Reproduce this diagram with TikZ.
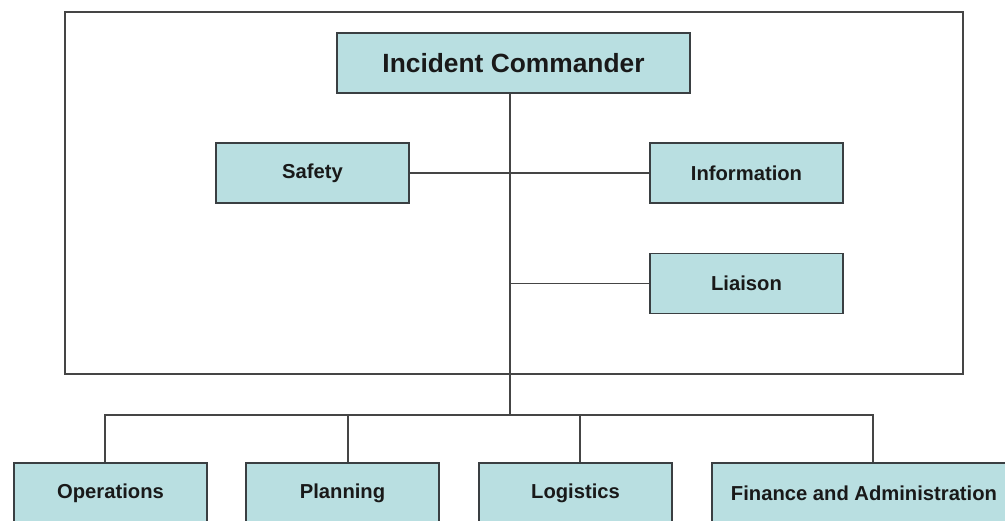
\documentclass[tikz,border=0pt]{standalone}
\usepackage{fontspec}
\setmainfont{Liberation Sans}
\usetikzlibrary{positioning,calc}
\definecolor{postfill}{HTML}{B9DFE1}
\definecolor{edge}{HTML}{3A3F42}
\definecolor{wire}{HTML}{454545}

\begin{document}
\begin{tikzpicture}[x=0.02cm,y=-0.02cm,
    post/.style={rectangle,draw=edge,fill=postfill,line width=1.1pt,minimum width=3.86cm,minimum height=1.2cm,inner sep=0pt,font=\fontsize{11.5}{13}\selectfont\bfseries,text=black!90},
    chief/.style={post,minimum width=7.06cm,font=\fontsize{15}{17}\selectfont\bfseries},
    link/.style={draw=wire,line width=0.9pt},
    frame/.style={draw=wire,line width=1pt},
]
\clip (0,0) rectangle (1005,521);

% Command staff (inside the frame)
\draw[frame] (65,12) rectangle (963,374);
\node[chief] (ic) at (513.5,63) {Incident Commander};
\node[post] (safety) at (312.5,173) {Safety};
\node[post] (info) at (746.5,173) {Information};
\node[post] (liaison) at (746.5,283.5) {Liaison};

% General staff (bottom row)
\node[post] (ops) at (110.5,493) {Operations};
\node[post] (plan) at (342.5,493) {Planning};
\node[post] (logi) at (575.5,493) {Logistics};
\node[post,minimum width=6.1cm] (fin) at (864,493) {Finance and Administration};

\coordinate (bus) at (510,415);

% Connectors
\draw[link] ([shift={(-3.5,0)}]ic.south) -- (bus);
\draw[link] (safety) -- (info);
\draw[link] (liaison.west) -- (liaison.west -| bus);
\draw[link] ([shift={(-5.5,0)}]ops.north) |- (bus) -| ([shift={(9,0)}]fin.north);
\draw[link] ([shift={(5.5,0)}]plan.north) |- (bus);
\draw[link] ([shift={(4.5,0)}]logi.north) |- (bus);
\end{tikzpicture}
\end{document}
